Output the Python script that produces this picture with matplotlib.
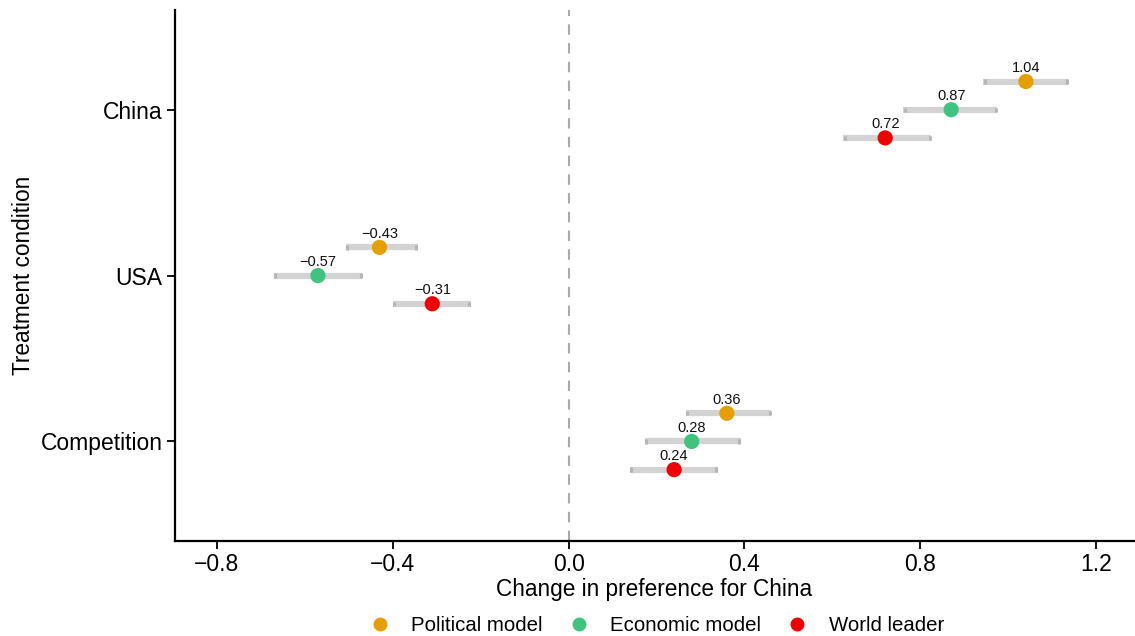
import matplotlib
matplotlib.use("Agg")
import matplotlib.pyplot as plt
from matplotlib.lines import Line2D

conditions = ["China", "USA", "Competition"]
series = ["Political model", "Economic model", "World leader"]
colors = ["#E69F00", "#3EC47E", "#F00000"]
estimates = {
    "Political model": [1.04, -0.43, 0.36],
    "Economic model": [0.87, -0.57, 0.28],
    "World leader": [0.72, -0.31, 0.24],
}
lower = {
    "Political model": [0.943, -0.507, 0.266],
    "Economic model": [0.761, -0.670, 0.173],
    "World leader": [0.625, -0.400, 0.139],
}
upper = {
    "Political model": [1.136, -0.343, 0.461],
    "Economic model": [0.975, -0.470, 0.391],
    "World leader": [0.825, -0.223, 0.339],
}
labels = {
    "Political model": ["1.04", "\u22120.43", "0.36"],
    "Economic model": ["0.87", "\u22120.57", "0.28"],
    "World leader": ["0.72", "\u22120.31", "0.24"],
}
xticks = [-0.8, -0.4, 0.0, 0.4, 0.8, 1.2]
xticklabels = ["\u22120.8", "\u22120.4", "0.0", "0.4", "0.8", "1.2"]

plt.rcParams['font.family'] = ['Liberation Sans', 'DejaVu Sans']

fig = plt.figure(figsize=(11.35, 6.36), dpi=100)
ax = fig.add_axes([0.1542, 0.1494, 0.845, 0.8346])

ypos = {c: 3 - i for i, c in enumerate(conditions)}
offsets = [0.17, 0.0, -0.17]

ax.axvline(0, color="#AAAAAA", linestyle=(0, (5, 4)), linewidth=1.5, zorder=1)

for s, col, off in zip(series, colors, offsets):
    for i, c in enumerate(conditions):
        y = ypos[c] + off
        lo, hi = lower[s][i], upper[s][i]
        ax.plot([lo, hi], [y, y], color="#D3D3D3", linewidth=4.5, solid_capstyle="butt", zorder=2)
        ax.plot([lo + 0.003, lo + 0.003], [y - 0.013, y + 0.013], color="#B5B5B5", linewidth=2.2,
                solid_capstyle="butt", zorder=2.5)
        ax.plot([hi - 0.003, hi - 0.003], [y - 0.013, y + 0.013], color="#B5B5B5", linewidth=2.2,
                solid_capstyle="butt", zorder=2.5)
        ax.scatter([estimates[s][i]], [y], s=120, color=col, zorder=3, edgecolors="none")
        ax.text(estimates[s][i], y + 0.04, labels[s][i], ha="center", va="bottom",
                fontsize=10.5, color="#111111", zorder=4)

ax.set_xlim(-0.895, 1.286)
ax.set_ylim(0.4, 3.6)
ax.set_xticks(xticks)
ax.set_xticklabels(xticklabels, fontsize=16.5)
ax.set_yticks([ypos[c] for c in conditions])
ax.set_yticklabels(conditions, fontsize=16.5)
ax.tick_params(axis="both", length=6, width=1.3, color="black", labelcolor="black", pad=3)
for sp in ["top", "right"]:
    ax.spines[sp].set_visible(False)
for sp in ["left", "bottom"]:
    ax.spines[sp].set_linewidth(1.6)
ax.set_xlabel("Change in preference for China", fontsize=16.3, labelpad=1)
ax.set_ylabel("Treatment condition", fontsize=16.3, labelpad=4)

handles = [Line2D([], [], marker="o", linestyle="none", markersize=10,
                  markerfacecolor=c, markeredgecolor="none", label=s)
           for s, c in zip(series, colors)]
fig.legend(handles=handles, loc="lower center", bbox_to_anchor=(0.574, -0.027), ncol=3,
           frameon=False, fontsize=14.7, handletextpad=0.55, columnspacing=0.75)

fig.savefig("out.png", dpi=100)
